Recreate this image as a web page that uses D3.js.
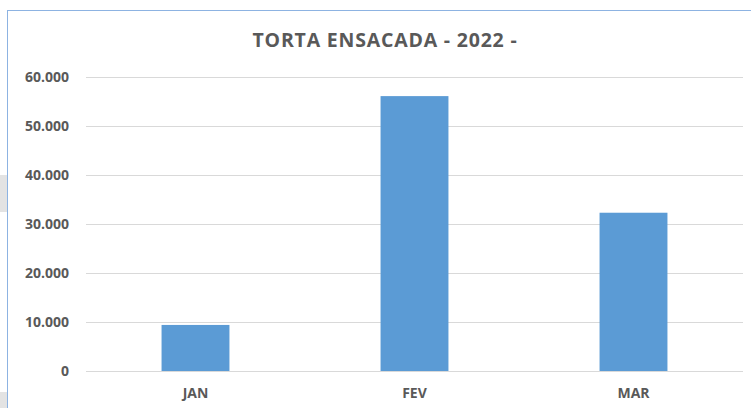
<!DOCTYPE html>
<html>
<head>
<meta charset="utf-8">
<script src="https://cdn.jsdelivr.net/npm/d3@7"></script>
<style>
body { margin: 0; background: #fff; }
text { font-family: "Open Sans", "Liberation Sans", sans-serif; font-weight: bold; fill: #595959; }
</style>
</head>
<body>
<div id="main"></div>
<script>
var categories = ["JAN", "FEV", "MAR"];
var values = [9400, 56100, 32300];
var yTicks = [0, 10000, 20000, 30000, 40000, 50000, 60000];
var title = "TORTA ENSACADA - 2022 -";

var width = 751, height = 408;
var margin = {top: 77, right: 8, bottom: 37, left: 86};

var svg = d3.select("#main").append("svg")
    .attr("width", width)
    .attr("height", height);

// gray bits of the sheet behind the chart
svg.append("rect").attr("x", 0).attr("y", 175).attr("width", 8).attr("height", 37).attr("fill", "#e3e3e3");
svg.append("rect").attr("x", 0).attr("y", 392).attr("width", 8).attr("height", 16).attr("fill", "#e3e3e3");

// chart frame
svg.append("rect")
    .attr("x", 7.5).attr("y", 10.5)
    .attr("width", 800).attr("height", 500)
    .attr("fill", "#fff")
    .attr("stroke", "#8db3e2")
    .attr("stroke-width", 1);

var x = d3.scaleBand()
    .domain(categories)
    .range([margin.left, width - margin.right])
    .paddingInner(0.69)
    .paddingOuter(0.345);

var y = d3.scaleLinear()
    .domain([0, 60000])
    .range([height - margin.bottom, margin.top]);

var fmt = function(d) { return d3.format(",")(d).replace(/,/g, "."); };

svg.append("g")
    .selectAll("line").data(yTicks)
    .enter().append("line")
    .attr("x1", margin.left)
    .attr("x2", width - margin.right)
    .attr("y1", d => Math.round(y(d)) + 0.5)
    .attr("y2", d => Math.round(y(d)) + 0.5)
    .attr("stroke", "#d9d9d9")
    .attr("stroke-width", 1);

svg.append("g")
    .selectAll("text").data(yTicks)
    .enter().append("text")
    .attr("x", 69)
    .attr("y", d => y(d) + 5)
    .attr("text-anchor", "end")
    .style("font-size", "14px")
    .text(fmt);

svg.append("g")
    .selectAll("rect").data(values)
    .enter().append("rect")
    .attr("x", (d, i) => x(categories[i]))
    .attr("y", d => y(d))
    .attr("width", x.bandwidth())
    .attr("height", d => y(0) - y(d))
    .attr("fill", "#5b9bd5");

svg.append("g")
    .selectAll("text").data(categories)
    .enter().append("text")
    .attr("x", d => x(d) + x.bandwidth() / 2)
    .attr("y", 398)
    .attr("text-anchor", "middle")
    .style("font-size", "14px")
    .text(d => d);

svg.append("text")
    .attr("x", 385)
    .attr("y", 47)
    .attr("text-anchor", "middle")
    .style("font-size", "19.5px")
    .style("letter-spacing", "0.8px")
    .text(title);
</script>
</body>
</html>
